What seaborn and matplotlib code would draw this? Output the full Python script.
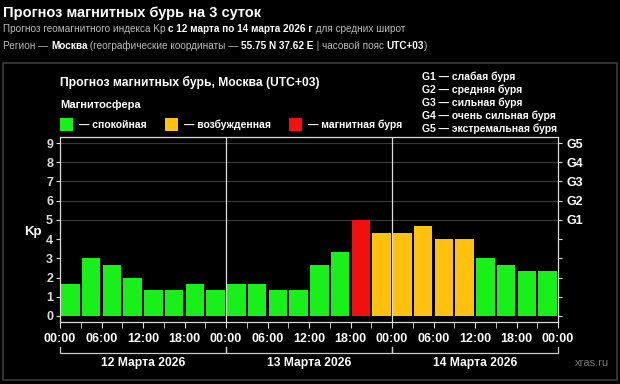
import numpy as np
import pandas as pd
import seaborn as sns
from matplotlib import pyplot as plt
from matplotlib.patches import Rectangle
from matplotlib.lines import Line2D

# Kp forecast, 3-hour intervals, 12-14 March 2026
kp_values = [1.67, 3.0, 2.67, 2.0, 1.33, 1.33, 1.67, 1.33,
             1.67, 1.67, 1.33, 1.33, 2.67, 3.33, 5.0, 4.33,
             4.33, 4.67, 4.0, 4.0, 3.0, 2.67, 2.33, 2.33]
states = ["спокойная"] * 14 + ["магнитная буря"] + ["возбужденная"] * 5 + ["спокойная"] * 4
time_labels = ["00:00", "06:00", "12:00", "18:00"] * 3 + ["00:00"]
day_labels = ["12 Марта 2026", "13 Марта 2026", "14 Марта 2026"]
g_labels = ["G1", "G2", "G3", "G4", "G5"]
g_desc = ["слабая буря", "средняя буря", "сильная буря", "очень сильная буря", "экстремальная буря"]
state_colors = {"спокойная": "#19f019", "возбужденная": "#ffc10e", "магнитная буря": "#f01010"}

df = pd.DataFrame({"slot": np.arange(len(kp_values)), "kp": kp_values, "state": states})

W, H = 620, 384
plt.rcParams["font.family"] = ["Liberation Sans", "DejaVu Sans"]
fig = plt.figure(figsize=(W / 100, H / 100), dpi=100, facecolor="black")


def fx(px):
    return px / W


def fy(py):
    return 1 - py / H


# outer panel frame
fig.add_artist(Rectangle((fx(3), fy(380)), fx(614), (380 - 63) / H, transform=fig.transFigure,
                         fill=False, edgecolor="#3c3c3c", lw=1.2))

ax = fig.add_axes([fx(60), fy(321.7), fx(498), (321.7 - 137.3) / H])
ax.set_facecolor("black")
sns.barplot(data=df, x="slot", y="kp", hue="state", palette=state_colors, order=range(24),
            dodge=False, width=0.9, saturation=1, legend=False, ax=ax)

ax.set_xlim(-0.5, 23.5)
ax.set_ylim(-0.3, 9.3)
for v in range(5, 10):
    ax.axhline(v, color="#3a3a3a", lw=0.8, zorder=0)
for d in (7.5, 15.5):
    ax.axvline(d, color="#dddddd", lw=0.9, zorder=3)

for side in ("top", "left", "right", "bottom"):
    ax.spines[side].set_color("#dddddd")
    ax.spines[side].set_linewidth(0.9)

ax.set_yticks(range(10))
ax.set_yticklabels([str(i) for i in range(10)], color="white", fontsize=9, fontweight="bold")
ax.tick_params(axis="y", colors="#dddddd", length=3, pad=2)
ax.set_xticks(np.arange(-0.5, 24, 1), minor=True)
ax.set_xticks(np.arange(-0.5, 24, 2))
ax.set_xticklabels(time_labels, color="white", fontsize=9, fontweight="bold")
ax.tick_params(axis="x", which="both", colors="#dddddd", length=4, pad=4)
ax.tick_params(axis="x", labelcolor="white")
ax.set_xlabel("")
ax.set_ylabel("")
ax.text(-0.055, 4.35, "Kp", transform=ax.get_yaxis_transform(), ha="center", va="center",
        color="white", fontsize=9.5, fontweight="bold")

ax2 = ax.twinx()
ax2.set_ylim(ax.get_ylim())
ax2.set_yticks(range(10))
ax2.set_yticklabels([""] * 5 + g_labels, color="white", fontsize=9, fontweight="bold")
ax2.tick_params(axis="y", colors="#dddddd", length=3, pad=3, labelcolor="white")
for side in ("top", "left", "right", "bottom"):
    ax2.spines[side].set_visible(False)

# day brackets under the time axis
tr = ax.get_xaxis_transform()
for i, lab in enumerate(day_labels):
    x0, x1 = -0.5 + 8 * i, 7.5 + 8 * i
    ax.add_line(Line2D([x0, x0, x1, x1], [-0.135, -0.168, -0.168, -0.135], transform=tr,
                       color="#cccccc", lw=0.9, clip_on=False))
    ax.text((x0 + x1) / 2, -0.225, lab, transform=tr, ha="center", va="center",
            color="white", fontsize=8.7, fontweight="bold")
fig.text(fx(575), fy(363), "xras.ru", color="#777777", fontsize=8, va="center", ha="left")

# header texts
fig.text(fx(3), fy(13), "Прогноз магнитных бурь на 3 суток", color="white", fontsize=10.5,
         fontweight="bold", va="center")
fig.canvas.draw()
r = fig.canvas.get_renderer()


def put_parts(y, parts, x=3):
    for txt, bold in parts:
        t = fig.text(fx(x), fy(y), txt, color="white" if bold else "#bbbbbb", fontsize=7.2,
                     fontweight="bold" if bold else "normal", va="center")
        x += t.get_window_extent(renderer=r).width


put_parts(29, [("Прогноз геомагнитного индекса Kp ", False), ("с 12 марта по 14 марта 2026 г", True),
               (" для средних широт", False)])
put_parts(46, [("Регион — ", False), ("Москва", True), (" (географические координаты — ", False),
               ("55.75 N 37.62 E", True), (" | часовой пояс ", False), ("UTC+03", True), (")", False)])

fig.text(fx(60), fy(82), "Прогноз магнитных бурь, Москва (UTC+03)", color="white", fontsize=8.7,
         fontweight="bold", va="center")
fig.text(fx(60), fy(105), "Магнитосфера", color="white", fontsize=8, fontweight="bold", va="center")
for xs, (name, col) in zip([60, 165, 289], state_colors.items()):
    fig.add_artist(Rectangle((fx(xs), fy(131)), fx(13), 13 / H, transform=fig.transFigure,
                             facecolor=col, edgecolor="none"))
    fig.text(fx(xs + 19), fy(125), "— " + name, color="white", fontsize=7.5, fontweight="bold",
             va="center")
for k, (g, desc) in enumerate(zip(g_labels, g_desc)):
    fig.text(fx(422), fy(77 + 13 * k), f"{g} — {desc}", color="white", fontsize=7.5,
             fontweight="bold", va="center")

plt.savefig("out.png", dpi=100, facecolor="black")
plt.close()
